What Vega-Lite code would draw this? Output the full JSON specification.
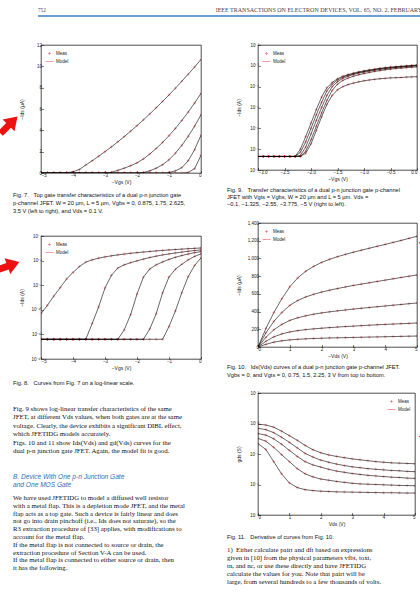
{
"$schema": "https://vega.github.io/schema/vega-lite/v6.json",
"background": "white",
"padding": {"left": -5, "top": 6, "right": 0, "bottom": 0},
"config": {
  "font": "Liberation Sans",
  "view": {"stroke": "#000", "strokeWidth": 0.7},
  "axis": {"grid": false, "domain": false, "tickColor": "#000", "tickWidth": 0.5, "tickSize": -2.5, "labelFontSize": 4.5, "labelColor": "#222", "labelFont": "Liberation Sans", "labelPadding": 2, "titleFont": "Liberation Sans", "titleFontSize": 5, "titleFontWeight": "normal", "titleColor": "#222", "titlePadding": 2},
  "axisY": {"minExtent": 15, "maxExtent": 15},
  "legend": {"labelFontSize": 4.5, "labelFont": "Liberation Sans", "labelColor": "#222", "symbolSize": 64, "symbolStrokeWidth": 0.6, "rowPadding": 0, "padding": 1, "offset": 3, "labelOffset": 2},
  "title": {"fontWeight": "normal"}
},
"datasets": {
  "f78": [
    {"c":1,"x":-5,"ua":0.00005,"ia":5e-11},{"c":1,"x":-4.8,"ua":0.00023,"ia":2.3e-10},{"c":1,"x":-4.6,"ua":0.0013,"ia":1.3e-9},{"c":1,"x":-4.4,"ua":0.0063,"ia":6.3e-9},{"c":1,"x":-4.2,"ua":0.032,"ia":3.2e-8},{"c":1,"x":-4.0,"ua":0.11,"ia":1.1e-7},{"c":1,"x":-3.8,"ua":0.33,"ia":3.3e-7},{"c":1,"x":-3.6,"ua":0.75,"ia":7.5e-7},{"c":1,"x":-3.4,"ua":1.15,"ia":1.15e-6},{"c":1,"x":-3.2,"ua":1.57,"ia":1.57e-6},{"c":1,"x":-3.0,"ua":2.0,"ia":2.0e-6},{"c":1,"x":-2.8,"ua":2.45,"ia":2.45e-6},{"c":1,"x":-2.6,"ua":2.92,"ia":2.92e-6},{"c":1,"x":-2.4,"ua":3.41,"ia":3.41e-6},{"c":1,"x":-2.2,"ua":3.92,"ia":3.92e-6},{"c":1,"x":-2.0,"ua":4.44,"ia":4.44e-6},{"c":1,"x":-1.8,"ua":4.98,"ia":4.98e-6},{"c":1,"x":-1.6,"ua":5.54,"ia":5.54e-6},{"c":1,"x":-1.4,"ua":6.12,"ia":6.12e-6},{"c":1,"x":-1.2,"ua":6.71,"ia":6.71e-6},{"c":1,"x":-1.0,"ua":7.32,"ia":7.32e-6},{"c":1,"x":-0.8,"ua":7.95,"ia":7.95e-6},{"c":1,"x":-0.6,"ua":8.6,"ia":8.6e-6},{"c":1,"x":-0.4,"ua":9.26,"ia":9.26e-6},{"c":1,"x":-0.2,"ua":9.94,"ia":9.94e-6},{"c":1,"x":0,"ua":10.64,"ia":1.064e-5},
    {"c":2,"x":-5,"ua":0,"ia":4e-13},{"c":2,"x":-4.8,"ua":0,"ia":4e-13},{"c":2,"x":-4.6,"ua":0,"ia":4e-13},{"c":2,"x":-4.4,"ua":0,"ia":4e-13},{"c":2,"x":-4.2,"ua":0,"ia":4e-13},{"c":2,"x":-4.0,"ua":0,"ia":4e-13},{"c":2,"x":-3.8,"ua":0,"ia":4e-13},{"c":2,"x":-3.6,"ua":0,"ia":4e-13},{"c":2,"x":-3.4,"ua":0,"ia":7.8e-12},{"c":2,"x":-3.2,"ua":0.0002,"ia":1.7e-10},{"c":2,"x":-3.0,"ua":0.006,"ia":6e-9},{"c":2,"x":-2.8,"ua":0.063,"ia":6.3e-8},{"c":2,"x":-2.6,"ua":0.25,"ia":2.5e-7},{"c":2,"x":-2.4,"ua":0.45,"ia":4.5e-7},{"c":2,"x":-2.2,"ua":0.68,"ia":6.8e-7},{"c":2,"x":-2.0,"ua":0.95,"ia":9.5e-7},{"c":2,"x":-1.8,"ua":1.32,"ia":1.32e-6},{"c":2,"x":-1.6,"ua":1.78,"ia":1.78e-6},{"c":2,"x":-1.4,"ua":2.3,"ia":2.3e-6},{"c":2,"x":-1.2,"ua":2.87,"ia":2.87e-6},{"c":2,"x":-1.0,"ua":3.5,"ia":3.5e-6},{"c":2,"x":-0.8,"ua":4.18,"ia":4.18e-6},{"c":2,"x":-0.6,"ua":4.92,"ia":4.92e-6},{"c":2,"x":-0.4,"ua":5.71,"ia":5.71e-6},{"c":2,"x":-0.2,"ua":6.56,"ia":6.56e-6},{"c":2,"x":0,"ua":7.46,"ia":7.46e-6},
    {"c":3,"x":-5,"ua":0,"ia":4e-13},{"c":3,"x":-4.8,"ua":0,"ia":4e-13},{"c":3,"x":-4.6,"ua":0,"ia":4e-13},{"c":3,"x":-4.4,"ua":0,"ia":4e-13},{"c":3,"x":-4.2,"ua":0,"ia":4e-13},{"c":3,"x":-4.0,"ua":0,"ia":4e-13},{"c":3,"x":-3.8,"ua":0,"ia":4e-13},{"c":3,"x":-3.6,"ua":0,"ia":4e-13},{"c":3,"x":-3.4,"ua":0,"ia":4e-13},{"c":3,"x":-3.2,"ua":0,"ia":4e-13},{"c":3,"x":-3.0,"ua":0,"ia":4e-13},{"c":3,"x":-2.8,"ua":0,"ia":4e-13},{"c":3,"x":-2.6,"ua":0,"ia":4e-13},{"c":3,"x":-2.4,"ua":0,"ia":2.3e-12},{"c":3,"x":-2.2,"ua":0,"ia":4e-11},{"c":3,"x":-2.0,"ua":0.002,"ia":1.9e-9},{"c":3,"x":-1.8,"ua":0.045,"ia":4.5e-8},{"c":3,"x":-1.6,"ua":0.21,"ia":2.1e-7},{"c":3,"x":-1.4,"ua":0.45,"ia":4.5e-7},{"c":3,"x":-1.2,"ua":0.78,"ia":7.8e-7},{"c":3,"x":-1.0,"ua":1.24,"ia":1.24e-6},{"c":3,"x":-0.8,"ua":1.86,"ia":1.86e-6},{"c":3,"x":-0.6,"ua":2.59,"ia":2.59e-6},{"c":3,"x":-0.4,"ua":3.44,"ia":3.44e-6},{"c":3,"x":-0.2,"ua":4.39,"ia":4.39e-6},{"c":3,"x":0,"ua":5.46,"ia":5.46e-6},
    {"c":4,"x":-5,"ua":0,"ia":4e-13},{"c":4,"x":-4.8,"ua":0,"ia":4e-13},{"c":4,"x":-4.6,"ua":0,"ia":4e-13},{"c":4,"x":-4.4,"ua":0,"ia":4e-13},{"c":4,"x":-4.2,"ua":0,"ia":4e-13},{"c":4,"x":-4.0,"ua":0,"ia":4e-13},{"c":4,"x":-3.8,"ua":0,"ia":4e-13},{"c":4,"x":-3.6,"ua":0,"ia":4e-13},{"c":4,"x":-3.4,"ua":0,"ia":4e-13},{"c":4,"x":-3.2,"ua":0,"ia":4e-13},{"c":4,"x":-3.0,"ua":0,"ia":4e-13},{"c":4,"x":-2.8,"ua":0,"ia":4e-13},{"c":4,"x":-2.6,"ua":0,"ia":4e-13},{"c":4,"x":-2.4,"ua":0,"ia":4e-13},{"c":4,"x":-2.2,"ua":0,"ia":4e-13},{"c":4,"x":-2.0,"ua":0,"ia":4e-13},{"c":4,"x":-1.8,"ua":0,"ia":4e-13},{"c":4,"x":-1.6,"ua":0,"ia":2.8e-12},{"c":4,"x":-1.4,"ua":0,"ia":4.8e-11},{"c":4,"x":-1.2,"ua":0.002,"ia":2.4e-9},{"c":4,"x":-1.0,"ua":0.047,"ia":4.7e-8},{"c":4,"x":-0.8,"ua":0.2,"ia":2e-7},{"c":4,"x":-0.6,"ua":0.5,"ia":5e-7},{"c":4,"x":-0.4,"ua":1.15,"ia":1.15e-6},{"c":4,"x":-0.2,"ua":2.18,"ia":2.18e-6},{"c":4,"x":0,"ua":3.55,"ia":3.55e-6},
    {"c":5,"x":-5,"ua":0,"ia":4e-13},{"c":5,"x":-4.8,"ua":0,"ia":4e-13},{"c":5,"x":-4.6,"ua":0,"ia":4e-13},{"c":5,"x":-4.4,"ua":0,"ia":4e-13},{"c":5,"x":-4.2,"ua":0,"ia":4e-13},{"c":5,"x":-4.0,"ua":0,"ia":4e-13},{"c":5,"x":-3.8,"ua":0,"ia":4e-13},{"c":5,"x":-3.6,"ua":0,"ia":4e-13},{"c":5,"x":-3.4,"ua":0,"ia":4e-13},{"c":5,"x":-3.2,"ua":0,"ia":4e-13},{"c":5,"x":-3.0,"ua":0,"ia":4e-13},{"c":5,"x":-2.8,"ua":0,"ia":4e-13},{"c":5,"x":-2.6,"ua":0,"ia":4e-13},{"c":5,"x":-2.4,"ua":0,"ia":4e-13},{"c":5,"x":-2.2,"ua":0,"ia":4e-13},{"c":5,"x":-2.0,"ua":0,"ia":4e-13},{"c":5,"x":-1.8,"ua":0,"ia":4e-13},{"c":5,"x":-1.6,"ua":0,"ia":4e-13},{"c":5,"x":-1.4,"ua":0,"ia":4e-13},{"c":5,"x":-1.2,"ua":0,"ia":4e-13},{"c":5,"x":-1.0,"ua":0,"ia":4.4e-12},{"c":5,"x":-0.8,"ua":0,"ia":8e-11},{"c":5,"x":-0.6,"ua":0.0025,"ia":2.5e-9},{"c":5,"x":-0.4,"ua":0.05,"ia":5e-8},{"c":5,"x":-0.2,"ua":0.4,"ia":4e-7},{"c":5,"x":0,"ua":1.67,"ia":1.67e-6}
  ],
  "f9": [
    {"c":1,"x":-3.0,"y":4.47e-8},{"c":1,"x":-2.9,"y":4.47e-8},{"c":1,"x":-2.8,"y":4.47e-8},{"c":1,"x":-2.7,"y":4.47e-8},{"c":1,"x":-2.6,"y":4.47e-8},{"c":1,"x":-2.5,"y":4.47e-8},{"c":1,"x":-2.4,"y":4.47e-8},{"c":1,"x":-2.3,"y":4.47e-8},{"c":1,"x":-2.2,"y":1e-7},{"c":1,"x":-2.1,"y":3.98e-7},{"c":1,"x":-2.0,"y":1.78e-6},{"c":1,"x":-1.9,"y":7.94e-6},{"c":1,"x":-1.8,"y":3.16e-5},{"c":1,"x":-1.7,"y":8.91e-5},{"c":1,"x":-1.6,"y":1.585e-4},{"c":1,"x":-1.5,"y":2.4e-4},{"c":1,"x":-1.4,"y":3.16e-4},{"c":1,"x":-1.3,"y":3.8e-4},{"c":1,"x":-1.2,"y":4.47e-4},{"c":1,"x":-1.1,"y":5.13e-4},{"c":1,"x":-1.0,"y":5.75e-4},{"c":1,"x":-0.9,"y":6.31e-4},{"c":1,"x":-0.8,"y":6.92e-4},{"c":1,"x":-0.7,"y":7.59e-4},{"c":1,"x":-0.6,"y":8.13e-4},{"c":1,"x":-0.5,"y":8.71e-4},{"c":1,"x":-0.4,"y":9.12e-4},{"c":1,"x":-0.3,"y":9.55e-4},{"c":1,"x":-0.2,"y":1.0e-3},{"c":1,"x":-0.1,"y":1.047e-3},{"c":1,"x":0,"y":1.096e-3},
    {"c":2,"x":-3.0,"y":4.47e-8},{"c":2,"x":-2.9,"y":4.47e-8},{"c":2,"x":-2.8,"y":4.47e-8},{"c":2,"x":-2.7,"y":4.47e-8},{"c":2,"x":-2.6,"y":4.47e-8},{"c":2,"x":-2.5,"y":4.47e-8},{"c":2,"x":-2.4,"y":4.47e-8},{"c":2,"x":-2.3,"y":4.47e-8},{"c":2,"x":-2.2,"y":7.08e-8},{"c":2,"x":-2.1,"y":2.24e-7},{"c":2,"x":-2.0,"y":1e-6},{"c":2,"x":-1.9,"y":4.47e-6},{"c":2,"x":-1.8,"y":1.78e-5},{"c":2,"x":-1.7,"y":6.31e-5},{"c":2,"x":-1.6,"y":1.318e-4},{"c":2,"x":-1.5,"y":2.09e-4},{"c":2,"x":-1.4,"y":2.88e-4},{"c":2,"x":-1.3,"y":3.55e-4},{"c":2,"x":-1.2,"y":4.17e-4},{"c":2,"x":-1.1,"y":4.79e-4},{"c":2,"x":-1.0,"y":5.37e-4},{"c":2,"x":-0.9,"y":6.03e-4},{"c":2,"x":-0.8,"y":6.61e-4},{"c":2,"x":-0.7,"y":7.24e-4},{"c":2,"x":-0.6,"y":7.76e-4},{"c":2,"x":-0.5,"y":8.32e-4},{"c":2,"x":-0.4,"y":8.71e-4},{"c":2,"x":-0.3,"y":9.12e-4},{"c":2,"x":-0.2,"y":9.55e-4},{"c":2,"x":-0.1,"y":1.0e-3},{"c":2,"x":0,"y":1.047e-3},
    {"c":3,"x":-3.0,"y":4.47e-8},{"c":3,"x":-2.9,"y":4.47e-8},{"c":3,"x":-2.8,"y":4.47e-8},{"c":3,"x":-2.7,"y":4.47e-8},{"c":3,"x":-2.6,"y":4.47e-8},{"c":3,"x":-2.5,"y":4.47e-8},{"c":3,"x":-2.4,"y":4.47e-8},{"c":3,"x":-2.3,"y":4.47e-8},{"c":3,"x":-2.2,"y":5.01e-8},{"c":3,"x":-2.1,"y":1.26e-7},{"c":3,"x":-2.0,"y":5.37e-7},{"c":3,"x":-1.9,"y":2.4e-6},{"c":3,"x":-1.8,"y":1e-5},{"c":3,"x":-1.7,"y":3.8e-5},{"c":3,"x":-1.6,"y":1e-4},{"c":3,"x":-1.5,"y":1.74e-4},{"c":3,"x":-1.4,"y":2.51e-4},{"c":3,"x":-1.3,"y":3.16e-4},{"c":3,"x":-1.2,"y":3.8e-4},{"c":3,"x":-1.1,"y":4.47e-4},{"c":3,"x":-1.0,"y":5.01e-4},{"c":3,"x":-0.9,"y":5.62e-4},{"c":3,"x":-0.8,"y":6.17e-4},{"c":3,"x":-0.7,"y":6.76e-4},{"c":3,"x":-0.6,"y":7.24e-4},{"c":3,"x":-0.5,"y":7.76e-4},{"c":3,"x":-0.4,"y":8.32e-4},{"c":3,"x":-0.3,"y":8.71e-4},{"c":3,"x":-0.2,"y":9.12e-4},{"c":3,"x":-0.1,"y":9.55e-4},{"c":3,"x":0,"y":1e-3},
    {"c":4,"x":-3.0,"y":4.47e-8},{"c":4,"x":-2.9,"y":4.47e-8},{"c":4,"x":-2.8,"y":4.47e-8},{"c":4,"x":-2.7,"y":4.47e-8},{"c":4,"x":-2.6,"y":4.47e-8},{"c":4,"x":-2.5,"y":4.47e-8},{"c":4,"x":-2.4,"y":4.47e-8},{"c":4,"x":-2.3,"y":4.47e-8},{"c":4,"x":-2.2,"y":4.47e-8},{"c":4,"x":-2.1,"y":7.94e-8},{"c":4,"x":-2.0,"y":2.82e-7},{"c":4,"x":-1.9,"y":1.26e-6},{"c":4,"x":-1.8,"y":5.5e-6},{"c":4,"x":-1.7,"y":2.19e-5},{"c":4,"x":-1.6,"y":6.61e-5},{"c":4,"x":-1.5,"y":1.32e-4},{"c":4,"x":-1.4,"y":2.0e-4},{"c":4,"x":-1.3,"y":2.57e-4},{"c":4,"x":-1.2,"y":3.16e-4},{"c":4,"x":-1.1,"y":3.72e-4},{"c":4,"x":-1.0,"y":4.27e-4},{"c":4,"x":-0.9,"y":4.79e-4},{"c":4,"x":-0.8,"y":5.37e-4},{"c":4,"x":-0.7,"y":5.89e-4},{"c":4,"x":-0.6,"y":6.46e-4},{"c":4,"x":-0.5,"y":6.92e-4},{"c":4,"x":-0.4,"y":7.41e-4},{"c":4,"x":-0.3,"y":7.76e-4},{"c":4,"x":-0.2,"y":8.13e-4},{"c":4,"x":-0.1,"y":8.51e-4},{"c":4,"x":0,"y":8.91e-4},
    {"c":5,"x":-3.0,"y":4.47e-8},{"c":5,"x":-2.9,"y":4.47e-8},{"c":5,"x":-2.8,"y":4.47e-8},{"c":5,"x":-2.7,"y":4.47e-8},{"c":5,"x":-2.6,"y":4.47e-8},{"c":5,"x":-2.5,"y":4.47e-8},{"c":5,"x":-2.4,"y":4.47e-8},{"c":5,"x":-2.3,"y":4.47e-8},{"c":5,"x":-2.2,"y":4.47e-8},{"c":5,"x":-2.1,"y":6.31e-8},{"c":5,"x":-2.0,"y":1.78e-7},{"c":5,"x":-1.9,"y":7.94e-7},{"c":5,"x":-1.8,"y":3.55e-6},{"c":5,"x":-1.7,"y":1.41e-5},{"c":5,"x":-1.6,"y":3.8e-5},{"c":5,"x":-1.5,"y":7.08e-5},{"c":5,"x":-1.4,"y":1e-4},{"c":5,"x":-1.3,"y":1.26e-4},{"c":5,"x":-1.2,"y":1.48e-4},{"c":5,"x":-1.1,"y":1.7e-4},{"c":5,"x":-1.0,"y":1.91e-4},{"c":5,"x":-0.9,"y":2.09e-4},{"c":5,"x":-0.8,"y":2.24e-4},{"c":5,"x":-0.7,"y":2.4e-4},{"c":5,"x":-0.6,"y":2.51e-4},{"c":5,"x":-0.5,"y":2.63e-4},{"c":5,"x":-0.4,"y":2.69e-4},{"c":5,"x":-0.3,"y":2.75e-4},{"c":5,"x":-0.2,"y":2.88e-4},{"c":5,"x":-0.1,"y":2.95e-4},{"c":5,"x":0,"y":3.02e-4}
  ],
  "f10": [
    {"c":1,"x":0,"y":0},{"c":1,"x":0.25,"y":210},{"c":1,"x":0.5,"y":390},{"c":1,"x":0.75,"y":545},{"c":1,"x":1,"y":680},{"c":1,"x":1.25,"y":780},{"c":1,"x":1.5,"y":855},{"c":1,"x":1.75,"y":910},{"c":1,"x":2,"y":955},{"c":1,"x":2.25,"y":990},{"c":1,"x":2.5,"y":1020},{"c":1,"x":2.75,"y":1046},{"c":1,"x":3,"y":1070},{"c":1,"x":3.25,"y":1093},{"c":1,"x":3.5,"y":1115},{"c":1,"x":3.75,"y":1137},{"c":1,"x":4,"y":1158},{"c":1,"x":4.25,"y":1181},{"c":1,"x":4.5,"y":1203},{"c":1,"x":4.75,"y":1227},{"c":1,"x":5,"y":1250},
    {"c":2,"x":0,"y":0},{"c":2,"x":0.25,"y":160},{"c":2,"x":0.5,"y":290},{"c":2,"x":0.75,"y":390},{"c":2,"x":1,"y":470},{"c":2,"x":1.25,"y":525},{"c":2,"x":1.5,"y":565},{"c":2,"x":1.75,"y":595},{"c":2,"x":2,"y":620},{"c":2,"x":2.25,"y":641},{"c":2,"x":2.5,"y":660},{"c":2,"x":2.75,"y":678},{"c":2,"x":3,"y":695},{"c":2,"x":3.25,"y":710},{"c":2,"x":3.5,"y":725},{"c":2,"x":3.75,"y":740},{"c":2,"x":4,"y":755},{"c":2,"x":4.25,"y":770},{"c":2,"x":4.5,"y":785},{"c":2,"x":4.75,"y":799},{"c":2,"x":5,"y":813},
    {"c":3,"x":0,"y":0},{"c":3,"x":0.25,"y":110},{"c":3,"x":0.5,"y":195},{"c":3,"x":0.75,"y":255},{"c":3,"x":1,"y":300},{"c":3,"x":1.25,"y":330},{"c":3,"x":1.5,"y":352},{"c":3,"x":1.75,"y":370},{"c":3,"x":2,"y":385},{"c":3,"x":2.25,"y":397},{"c":3,"x":2.5,"y":408},{"c":3,"x":2.75,"y":418},{"c":3,"x":3,"y":428},{"c":3,"x":3.25,"y":437},{"c":3,"x":3.5,"y":446},{"c":3,"x":3.75,"y":455},{"c":3,"x":4,"y":463},{"c":3,"x":4.25,"y":472},{"c":3,"x":4.5,"y":480},{"c":3,"x":4.75,"y":489},{"c":3,"x":5,"y":497},
    {"c":4,"x":0,"y":0},{"c":4,"x":0.25,"y":65},{"c":4,"x":0.5,"y":115},{"c":4,"x":0.75,"y":148},{"c":4,"x":1,"y":170},{"c":4,"x":1.25,"y":185},{"c":4,"x":1.5,"y":196},{"c":4,"x":1.75,"y":205},{"c":4,"x":2,"y":212},{"c":4,"x":2.25,"y":219},{"c":4,"x":2.5,"y":225},{"c":4,"x":2.75,"y":231},{"c":4,"x":3,"y":236},{"c":4,"x":3.25,"y":241},{"c":4,"x":3.5,"y":246},{"c":4,"x":3.75,"y":251},{"c":4,"x":4,"y":255},{"c":4,"x":4.25,"y":259},{"c":4,"x":4.5,"y":263},{"c":4,"x":4.75,"y":267},{"c":4,"x":5,"y":271},
    {"c":5,"x":0,"y":0},{"c":5,"x":0.25,"y":30},{"c":5,"x":0.5,"y":55},{"c":5,"x":0.75,"y":70},{"c":5,"x":1,"y":80},{"c":5,"x":1.25,"y":87},{"c":5,"x":1.5,"y":92},{"c":5,"x":1.75,"y":96},{"c":5,"x":2,"y":99},{"c":5,"x":2.25,"y":102},{"c":5,"x":2.5,"y":104},{"c":5,"x":2.75,"y":106},{"c":5,"x":3,"y":108},{"c":5,"x":3.25,"y":110},{"c":5,"x":3.5,"y":112},{"c":5,"x":3.75,"y":114},{"c":5,"x":4,"y":116},{"c":5,"x":4.25,"y":118},{"c":5,"x":4.5,"y":120},{"c":5,"x":4.75,"y":122},{"c":5,"x":5,"y":124}
  ],
  "f11": [
    {"c":1,"x":0,"y":9.55e-4},{"c":1,"x":0.25,"y":8.91e-4},{"c":1,"x":0.5,"y":7.59e-4},{"c":1,"x":0.75,"y":5.62e-4},{"c":1,"x":1,"y":3.98e-4},{"c":1,"x":1.25,"y":2.82e-4},{"c":1,"x":1.5,"y":1.91e-4},{"c":1,"x":1.75,"y":1.38e-4},{"c":1,"x":2,"y":1.096e-4},{"c":1,"x":2.25,"y":9.33e-5},{"c":1,"x":2.5,"y":8.32e-5},{"c":1,"x":2.75,"y":7.59e-5},{"c":1,"x":3,"y":6.92e-5},{"c":1,"x":3.25,"y":6.46e-5},{"c":1,"x":3.5,"y":6.03e-5},{"c":1,"x":3.75,"y":5.62e-5},{"c":1,"x":4,"y":5.37e-5},{"c":1,"x":4.25,"y":5.13e-5},{"c":1,"x":4.5,"y":5.01e-5},{"c":1,"x":4.75,"y":4.9e-5},{"c":1,"x":5,"y":4.79e-5},
    {"c":2,"x":0,"y":6.92e-4},{"c":2,"x":0.25,"y":6.31e-4},{"c":2,"x":0.5,"y":5.01e-4},{"c":2,"x":0.75,"y":3.55e-4},{"c":2,"x":1,"y":2.4e-4},{"c":2,"x":1.25,"y":1.585e-4},{"c":2,"x":1.5,"y":1.047e-4},{"c":2,"x":1.75,"y":7.94e-5},{"c":2,"x":2,"y":6.31e-5},{"c":2,"x":2.25,"y":5.37e-5},{"c":2,"x":2.5,"y":4.68e-5},{"c":2,"x":2.75,"y":4.17e-5},{"c":2,"x":3,"y":3.8e-5},{"c":2,"x":3.25,"y":3.55e-5},{"c":2,"x":3.5,"y":3.31e-5},{"c":2,"x":3.75,"y":3.16e-5},{"c":2,"x":4,"y":3.02e-5},{"c":2,"x":4.25,"y":2.88e-5},{"c":2,"x":4.5,"y":2.82e-5},{"c":2,"x":4.75,"y":2.69e-5},{"c":2,"x":5,"y":2.63e-5},
    {"c":3,"x":0,"y":4.68e-4},{"c":3,"x":0.25,"y":4.17e-4},{"c":3,"x":0.5,"y":3.16e-4},{"c":3,"x":0.75,"y":2.09e-4},{"c":3,"x":1,"y":1.318e-4},{"c":3,"x":1.25,"y":8.32e-5},{"c":3,"x":1.5,"y":5.62e-5},{"c":3,"x":1.75,"y":4.37e-5},{"c":3,"x":2,"y":3.72e-5},{"c":3,"x":2.25,"y":3.16e-5},{"c":3,"x":2.5,"y":2.75e-5},{"c":3,"x":2.75,"y":2.51e-5},{"c":3,"x":3,"y":2.29e-5},{"c":3,"x":3.25,"y":2.14e-5},{"c":3,"x":3.5,"y":2.0e-5},{"c":3,"x":3.75,"y":1.905e-5},{"c":3,"x":4,"y":1.82e-5},{"c":3,"x":4.25,"y":1.74e-5},{"c":3,"x":4.5,"y":1.7e-5},{"c":3,"x":4.75,"y":1.62e-5},{"c":3,"x":5,"y":1.585e-5},
    {"c":4,"x":0,"y":3.24e-4},{"c":4,"x":0.25,"y":2.63e-4},{"c":4,"x":0.5,"y":1.66e-4},{"c":4,"x":0.75,"y":9.55e-5},{"c":4,"x":1,"y":5.62e-5},{"c":4,"x":1.25,"y":3.31e-5},{"c":4,"x":1.5,"y":2.24e-5},{"c":4,"x":1.75,"y":1.78e-5},{"c":4,"x":2,"y":1.51e-5},{"c":4,"x":2.25,"y":1.38e-5},{"c":4,"x":2.5,"y":1.26e-5},{"c":4,"x":2.75,"y":1.175e-5},{"c":4,"x":3,"y":1.096e-5},{"c":4,"x":3.25,"y":1.047e-5},{"c":4,"x":3.5,"y":1.023e-5},{"c":4,"x":3.75,"y":1.0e-5},{"c":4,"x":4,"y":9.77e-6},{"c":4,"x":4.25,"y":9.55e-6},{"c":4,"x":4.5,"y":9.33e-6},{"c":4,"x":4.75,"y":9.23e-6},{"c":4,"x":5,"y":9.12e-6},
    {"c":5,"x":0,"y":2.19e-4},{"c":5,"x":0.25,"y":1.41e-4},{"c":5,"x":0.5,"y":5.62e-5},{"c":5,"x":0.75,"y":2.24e-5},{"c":5,"x":1,"y":1.122e-5},{"c":5,"x":1.25,"y":7.94e-6},{"c":5,"x":1.5,"y":6.76e-6},{"c":5,"x":1.75,"y":6.31e-6},{"c":5,"x":2,"y":6.03e-6},{"c":5,"x":2.25,"y":5.89e-6},{"c":5,"x":2.5,"y":5.75e-6},{"c":5,"x":2.75,"y":5.69e-6},{"c":5,"x":3,"y":5.62e-6},{"c":5,"x":3.25,"y":5.56e-6},{"c":5,"x":3.5,"y":5.5e-6},{"c":5,"x":3.75,"y":5.43e-6},{"c":5,"x":4,"y":5.37e-6},{"c":5,"x":4.25,"y":5.37e-6},{"c":5,"x":4.5,"y":5.31e-6},{"c":5,"x":4.75,"y":5.25e-6},{"c":5,"x":5,"y":5.25e-6}
  ]
},
"spacing": 24,
"resolve": {"scale": {"shape": "independent"}},
"vconcat": [
  {
    "width": 425, "height": 10,
    "view": {"stroke": null},
    "encoding": {
      "x": {"field": "p", "type": "quantitative", "scale": {"domain": [0, 1], "nice": false}, "axis": null},
      "y": {"field": "q", "type": "quantitative", "scale": {"domain": [0, 1], "nice": false}, "axis": null}
    },
    "layer": [
      {"data": {"values": [{"p": -0.007, "p1": 1.02, "q": 0}]},
       "mark": {"type": "rule", "color": "#3a7cc7", "strokeWidth": 1.3},
       "encoding": {"x2": {"field": "p1"}}},
      {"data": {"values": [{"p": -0.007, "q": 0.6, "t": "752"}]},
       "mark": {"type": "text", "align": "left", "baseline": "middle", "font": "Liberation Serif", "fontSize": 5.2, "color": "#444"},
       "encoding": {"text": {"field": "t"}}},
      {"data": {"values": [{"p": 0.411, "q": 0.6, "t": "IEEE TRANSACTIONS ON ELECTRON DEVICES, VOL. 65, NO. 2, FEBRUARY 2018"}]},
       "mark": {"type": "text", "align": "left", "baseline": "middle", "font": "Liberation Serif", "fontSize": 6.0, "color": "#444"},
       "encoding": {"text": {"field": "t"}}}
    ]
  },
  {
    "spacing": 24,
    "resolve": {"scale": {"shape": "independent"}},
    "hconcat": [
      {
        "spacing": 18,
        "resolve": {"scale": {"shape": "independent"}},
        "vconcat": [
          {
            "width": 160, "height": 128,
            "data": {"name": "f78"},
            "title": {"text": ["Fig. 7.\u00a0\u00a0\u00a0Top gate transfer characteristics of a dual p-n junction gate", "p-channel JFET. W = 20 µm, L = 5 µm, Vgbs = 0, 0.875, 1.75, 2.625,", "3.5 V (left to right), and Vds = 0.1 V."], "orient": "bottom", "anchor": "start", "frame": "group", "dx": -28, "font": "Liberation Sans", "fontSize": 5.7, "lineHeight": 7.8, "offset": 8, "color": "#111", "fontWeight": "normal"},
            "encoding": {
              "x": {"field": "x", "type": "quantitative", "scale": {"domain": [-5, 0], "nice": false}, "axis": {"values": [-5, -4, -3, -2, -1, 0], "title": "−Vgs (V)"}},
              "y": {"field": "ua", "type": "quantitative", "scale": {"domain": [0, 12], "nice": false}, "axis": {"values": [0, 2, 4, 6, 8, 10, 12], "title": "−Ids (µA)"}}
            },
            "layer": [
              {"mark": {"type": "point", "filled": false, "stroke": "#e8141c", "strokeWidth": 0.5, "size": 64, "clip": true},
               "encoding": {"shape": {"datum": "Meas", "type": "nominal", "scale": {"domain": ["Meas", "Model"], "range": ["M-0.35,0L0.35,0M0,-0.35L0,0.35", "stroke"]}, "legend": {"orient": "top-left", "title": null, "encode": {"symbols": {"update": {"stroke": {"signal": "datum.value === 'Meas' ? '#e8141c' : '#000'"}}}}}}}},
              {"mark": {"type": "line", "color": "#000", "strokeWidth": 0.6, "clip": true}, "encoding": {"detail": {"field": "c"}}},
              {"data": {"values": [{"x": -6.0, "ua": 4.5}]}, "mark": {"type": "point", "shape": "M-0.28,1L0.28,1L0.28,0.05L0.7,0.05L0,-1L-0.7,0.05L-0.28,0.05Z", "filled": true, "color": "#ee1111", "opacity": 1, "size": 576, "angle": 45}}
            ]
          },
          {
            "width": 160, "height": 123,
            "data": {"name": "f78"},
            "title": {"text": ["Fig. 8.\u00a0\u00a0\u00a0Curves from Fig. 7 on a log-linear scale."], "subtitle": ["\u00a0\u00a0\u00a0Fig. 9 shows log-linear transfer characteristics of the same", "JFET, at different Vds values, when both gates are at the same", "voltage. Clearly, the device exhibits a significant DIBL effect,", "which JFETIDG models accurately.", "\u00a0\u00a0\u00a0Figs. 10 and 11 show Ids(Vds) and gd(Vds) curves for the", "dual p-n junction gate JFET. Again, the model fit is good."], "orient": "bottom", "anchor": "start", "frame": "group", "dx": -28, "font": "Liberation Sans", "fontSize": 5.7, "lineHeight": 7.8, "offset": 10, "color": "#111", "fontWeight": "normal", "subtitleFont": "Liberation Serif", "subtitleFontSize": 6.8, "subtitleLineHeight": 8.5, "subtitleColor": "#111", "subtitlePadding": 20},
            "encoding": {
              "x": {"field": "x", "type": "quantitative", "scale": {"domain": [-5, 0], "nice": false}, "axis": {"values": [-5, -4, -3, -2, -1, 0], "title": "−Vgs (V)"}},
              "y": {"field": "ia", "type": "quantitative", "scale": {"type": "log", "domain": [1e-14, 1e-4], "nice": false}, "axis": {"values": [1e-14, 1e-12, 1e-10, 1e-8, 1e-6, 1e-4], "title": "−Ids (A)", "labelExpr": "'10' + replace(replace(replace(replace(replace(replace(replace(replace(replace(replace(replace(toString(round(log(datum.value)/LN10)),'-','⁻'),'0','⁰'),'1','¹'),'2','²'),'3','³'),'4','⁴'),'5','⁵'),'6','⁶'),'7','⁷'),'8','⁸'),'9','⁹')"}}
            },
            "layer": [
              {"mark": {"type": "point", "filled": false, "stroke": "#e8141c", "strokeWidth": 0.5, "size": 64, "clip": true},
               "encoding": {"shape": {"datum": "Meas", "type": "nominal", "scale": {"domain": ["Meas", "Model"], "range": ["M-0.35,0L0.35,0M0,-0.35L0,0.35", "stroke"]}, "legend": {"orient": "top-left", "title": null, "encode": {"symbols": {"update": {"stroke": {"signal": "datum.value === 'Meas' ? '#e8141c' : '#000'"}}}}}}}},
              {"mark": {"type": "line", "color": "#000", "strokeWidth": 0.6, "clip": true}, "encoding": {"detail": {"field": "c"}}},
              {"data": {"values": [{"x": -6.03, "ia": 3.63e-7}]}, "mark": {"type": "point", "shape": "M-0.28,1L0.28,1L0.28,0.05L0.7,0.05L0,-1L-0.7,0.05L-0.28,0.05Z", "filled": true, "color": "#ee1111", "opacity": 1, "size": 576, "angle": 70}}
            ]
          },
          {
            "width": 160, "height": 1,
            "view": {"stroke": null},
            "data": {"values": []},
            "mark": {"type": "text"},
            "title": {"text": ["B. Device With One p-n Junction Gate", "and One MOS Gate"], "subtitle": ["\u00a0\u00a0\u00a0We have used JFETIDG to model a diffused well resistor", "with a metal flap. This is a depletion mode JFET, and the metal", "flap acts as a top gate. Such a device is fairly linear and does", "not go into drain pinchoff (i.e., Ids does not saturate), so the", "R3 extraction procedure of [33] applies, with modifications to", "account for the metal flap.", "\u00a0\u00a0\u00a0If the metal flap is not connected to source or drain, the", "extraction procedure of Section V-A can be used.", "\u00a0\u00a0\u00a0If the metal flap is connected to either source or drain, then", "it has the following."], "orient": "top", "anchor": "start", "frame": "group", "dx": -28, "dy": -5, "font": "Liberation Sans", "fontStyle": "italic", "fontSize": 6.6, "lineHeight": 8, "color": "#2f6db5", "fontWeight": "normal", "subtitleFont": "Liberation Serif", "subtitleFontSize": 6.8, "subtitleLineHeight": 7.8, "subtitleColor": "#111", "subtitlePadding": 6, "offset": 0}
          }
        ]
      },
      {
        "spacing": 11,
        "resolve": {"scale": {"shape": "independent"}},
        "vconcat": [
          {
            "width": 159, "height": 125,
            "data": {"name": "f9"},
            "title": {"text": ["Fig. 9.\u00a0\u00a0\u00a0Transfer characteristics of a dual p-n junction gate p-channel", "JFET with Vgts = Vgbs, W = 20 µm and L = 5 µm. Vds =", "−0.1, −1.325, −2.55, −3.775, −5 V (right to left)."], "orient": "bottom", "anchor": "start", "frame": "group", "dx": -31, "font": "Liberation Sans", "fontSize": 5.7, "lineHeight": 7.2, "offset": 6, "color": "#111", "fontWeight": "normal"},
            "encoding": {
              "x": {"field": "x", "type": "quantitative", "scale": {"domain": [-3, 0], "nice": false}, "axis": {"values": [-3, -2.5, -2, -1.5, -1, -0.5, 0], "title": "−Vgs (V)"}},
              "y": {"field": "y", "type": "quantitative", "scale": {"type": "log", "domain": [1e-8, 1e-2], "nice": false}, "axis": {"values": [1e-8, 1e-7, 1e-6, 1e-5, 1e-4, 1e-3, 1e-2], "title": "−Ids (A)", "labelExpr": "'10' + replace(replace(replace(replace(replace(replace(replace(replace(replace(replace(replace(toString(round(log(datum.value)/LN10)),'-','⁻'),'0','⁰'),'1','¹'),'2','²'),'3','³'),'4','⁴'),'5','⁵'),'6','⁶'),'7','⁷'),'8','⁸'),'9','⁹')"}}
            },
            "layer": [
              {"mark": {"type": "point", "filled": false, "stroke": "#e8141c", "strokeWidth": 0.5, "size": 64, "clip": true},
               "encoding": {"shape": {"datum": "Meas", "type": "nominal", "scale": {"domain": ["Meas", "Model"], "range": ["M-0.35,0L0.35,0M0,-0.35L0,0.35", "stroke"]}, "legend": {"orient": "top-left", "title": null, "encode": {"symbols": {"update": {"stroke": {"signal": "datum.value === 'Meas' ? '#e8141c' : '#000'"}}}}}}}},
              {"mark": {"type": "line", "color": "#000", "strokeWidth": 0.6, "clip": true}, "encoding": {"detail": {"field": "c"}}}
            ]
          },
          {
            "width": 159, "height": 124,
            "data": {"name": "f10"},
            "title": {"text": ["Fig. 10.\u00a0\u00a0\u00a0Ids(Vds) curves of a dual p-n junction gate p-channel JFET.", "Vgbs = 0, and Vgts = 0, 0.75, 1.5, 2.25, 3 V from top to bottom."], "orient": "bottom", "anchor": "start", "frame": "group", "dx": -31, "font": "Liberation Sans", "fontSize": 5.7, "lineHeight": 7.8, "offset": 6, "color": "#111", "fontWeight": "normal"},
            "encoding": {
              "x": {"field": "x", "type": "quantitative", "scale": {"domain": [0, 5], "nice": false}, "axis": {"values": [0, 1, 2, 3, 4, 5], "title": "−Vds (V)"}},
              "y": {"field": "y", "type": "quantitative", "scale": {"domain": [0, 1400], "nice": false}, "axis": {"values": [0, 200, 400, 600, 800, 1000, 1200, 1400], "title": "−Ids (µA)"}}
            },
            "layer": [
              {"mark": {"type": "point", "filled": false, "stroke": "#e8141c", "strokeWidth": 0.5, "size": 64, "clip": true},
               "encoding": {"shape": {"datum": "Meas", "type": "nominal", "scale": {"domain": ["Meas", "Model"], "range": ["M-0.35,0L0.35,0M0,-0.35L0,0.35", "stroke"]}, "legend": {"orient": "top-left", "title": null, "encode": {"symbols": {"update": {"stroke": {"signal": "datum.value === 'Meas' ? '#e8141c' : '#000'"}}}}}}}},
              {"mark": {"type": "line", "color": "#000", "strokeWidth": 0.6, "clip": true}, "encoding": {"detail": {"field": "c"}}},
              {"data": {"values": [{"x": 5.41, "y": 1219}]}, "mark": {"type": "point", "shape": "M-0.28,1L0.28,1L0.28,0.05L0.7,0.05L0,-1L-0.7,0.05L-0.28,0.05Z", "filled": true, "color": "#ee1111", "opacity": 1, "size": 576, "angle": 250}}
            ]
          },
          {
            "width": 157, "height": 122,
            "data": {"name": "f11"},
            "title": {"text": ["Fig. 11.\u00a0\u00a0\u00a0Derivative of curves from Fig. 10."], "subtitle": ["1)\u00a0\u00a0Either calculate pairt and dft based on expressions", "\u00a0\u00a0\u00a0\u00a0\u00a0given in [10] from the physical parameters vfbt, toxt,", "\u00a0\u00a0\u00a0\u00a0\u00a0tn, and nc, or use these directly and have JFETIDG", "\u00a0\u00a0\u00a0\u00a0\u00a0calculate the values for you. Note that pairt will be", "\u00a0\u00a0\u00a0\u00a0\u00a0large, from several hundreds to a few thousands of volts."], "orient": "bottom", "anchor": "start", "frame": "group", "dx": -31, "font": "Liberation Sans", "fontSize": 5.7, "lineHeight": 7.8, "offset": 8, "color": "#111", "fontWeight": "normal", "subtitleFont": "Liberation Serif", "subtitleFontSize": 6.8, "subtitleLineHeight": 8.2, "subtitleColor": "#111", "subtitlePadding": 7},
            "encoding": {
              "x": {"field": "x", "type": "quantitative", "scale": {"domain": [0, 5], "nice": false}, "axis": {"values": [0, 1, 2, 3, 4, 5], "title": "Vds (V)"}},
              "y": {"field": "y", "type": "quantitative", "scale": {"type": "log", "domain": [1e-6, 1e-2], "nice": false}, "axis": {"values": [1e-6, 1e-5, 1e-4, 1e-3, 1e-2], "title": "gds (S)", "labelExpr": "'10' + replace(replace(replace(replace(replace(replace(replace(replace(replace(replace(replace(toString(round(log(datum.value)/LN10)),'-','⁻'),'0','⁰'),'1','¹'),'2','²'),'3','³'),'4','⁴'),'5','⁵'),'6','⁶'),'7','⁷'),'8','⁸'),'9','⁹')"}}
            },
            "layer": [
              {"mark": {"type": "point", "filled": false, "stroke": "#e8141c", "strokeWidth": 0.5, "size": 64, "clip": true},
               "encoding": {"shape": {"datum": "Meas", "type": "nominal", "scale": {"domain": ["Meas", "Model"], "range": ["M-0.35,0L0.35,0M0,-0.35L0,0.35", "stroke"]}, "legend": {"orient": "top-right", "title": null, "encode": {"symbols": {"update": {"stroke": {"signal": "datum.value === 'Meas' ? '#e8141c' : '#000'"}}}}}}}},
              {"mark": {"type": "line", "color": "#000", "strokeWidth": 0.6, "clip": true}, "encoding": {"detail": {"field": "c"}}},
              {"data": {"values": [{"x": 5.48, "y": 4.9e-4}]}, "mark": {"type": "point", "shape": "M-0.28,1L0.28,1L0.28,0.05L0.7,0.05L0,-1L-0.7,0.05L-0.28,0.05Z", "filled": true, "color": "#ee1111", "opacity": 1, "size": 576, "angle": 250}}
            ]
          }
        ]
      }
    ]
  }
]
}
